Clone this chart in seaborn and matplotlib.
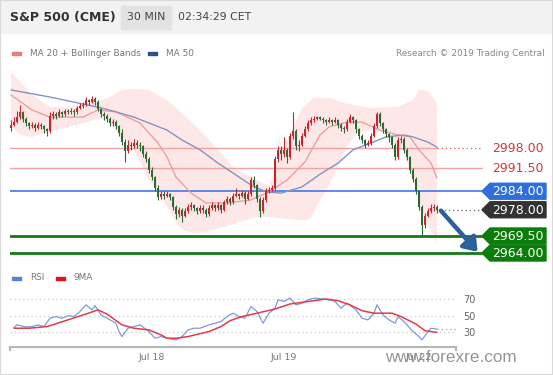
import numpy as np
import pandas as pd
import matplotlib
matplotlib.use("Agg")
import matplotlib.pyplot as plt
import seaborn as sns
from matplotlib.patches import Polygon, Rectangle
from matplotlib.transforms import blended_transform_factory

# ---------------- data ----------------
open_ = [
    3004.5, 3005.5, 3006.5, 3008, 3009.5, 3007.5, 3006, 3005, 3005.5, 3004.5,
    3005.5, 3005, 3004, 3003.5, 3008.5, 3009, 3008.5, 3009.5, 3009, 3010,
    3009.5, 3010, 3009.5, 3011, 3011.5, 3012, 3013.5, 3013, 3014, 3013,
    3010.5, 3009, 3008.5, 3007.5, 3006, 3006.5, 3005, 3003, 3000, 2997,
    2999, 2998.5, 2999.5, 2999, 2998.5, 2996, 2994.5, 2991, 2988.5, 2985,
    2982, 2983, 2982.5, 2983, 2982, 2979, 2976.5, 2978, 2976, 2977.5,
    2979, 2979.5, 2978.5, 2977.5, 2978.5, 2978, 2976.5, 2978.5, 2979.5, 2978.5,
    2979.5, 2978, 2980.5, 2981.5, 2980.5, 2982.5, 2983, 2982.5, 2983.5, 2981.5,
    2983, 2987.5, 2986, 2981.5, 2977.5, 2981, 2984, 2984.5, 2985, 2994.5,
    2997.5, 2996, 2997.5, 2995, 3002, 3003.5, 2998.5, 2999, 3002, 3004,
    3006, 3007, 3007.5, 3008, 3007.5, 3007, 3006.5, 3007, 3006.5, 3007,
    3005.5, 3004.5, 3004, 3006.5, 3008, 3007, 3004, 3002, 3000.5, 2999,
    2999.5, 3002, 3005, 3009, 3006, 3004, 3002.5, 3001.5, 2999, 2995,
    3000.5, 3001, 2997.5, 2995, 2991, 2988, 2984, 2979, 2973, 2976,
    2977.5, 2978.5, 2979]
close = [
    3005.5, 3006.5, 3008, 3009.5, 3007.5, 3006, 3005, 3005.5, 3004.5, 3005.5,
    3005, 3004, 3003.5, 3008.5, 3009, 3008.5, 3009.5, 3009, 3010, 3009.5,
    3010, 3009.5, 3011, 3011.5, 3012, 3013.5, 3013, 3014, 3013, 3010.5,
    3009, 3008.5, 3007.5, 3006, 3006.5, 3005, 3003, 3000, 2997, 2999,
    2998.5, 2999.5, 2999, 2998.5, 2996, 2994.5, 2991, 2988.5, 2985, 2982,
    2983, 2982.5, 2983, 2982, 2979, 2976.5, 2978, 2976, 2977.5, 2979,
    2979.5, 2978.5, 2977.5, 2978.5, 2978, 2976.5, 2978.5, 2979.5, 2978.5, 2979.5,
    2978, 2980.5, 2981.5, 2980.5, 2982.5, 2983, 2982.5, 2983.5, 2981.5, 2983,
    2987.5, 2986, 2981.5, 2977.5, 2981, 2984, 2984.5, 2985, 2994.5, 2997.5,
    2996, 2997.5, 2995, 3002, 3003.5, 2998.5, 2999, 3002, 3004, 3006,
    3007, 3007.5, 3008, 3007.5, 3007, 3006.5, 3007, 3006.5, 3007, 3005.5,
    3004.5, 3004, 3006.5, 3008, 3007, 3004, 3002, 3000.5, 2999, 2999.5,
    3002, 3005, 3009, 3006, 3004, 3002.5, 3001.5, 2999, 2995, 3000.5,
    3001, 2997.5, 2995, 2991, 2988, 2984, 2979, 2973, 2976, 2977.5,
    2978.5, 2979, 2978]
high = [
    3007, 3008, 3010, 3012, 3010, 3008, 3006.5, 3006.5, 3006, 3006.5,
    3006, 3005.5, 3004.5, 3009.5, 3010, 3009.5, 3010.5, 3010, 3010.5, 3010.5,
    3011, 3010.5, 3011.5, 3012.5, 3013, 3014.5, 3014, 3015, 3014.5, 3013.5,
    3011, 3009.5, 3009, 3008, 3007.5, 3007, 3005.5, 3004, 3001, 3000.5,
    3000, 3001, 3000.5, 3000, 2999, 2997, 2995, 2992, 2989, 2986,
    2984, 2984, 2984, 2983.5, 2982.5, 2979.5, 2979, 2978.5, 2978.5, 2980,
    2980.5, 2980, 2979, 2979.5, 2979.5, 2978.5, 2979.5, 2980.5, 2980, 2980.5,
    2980, 2981, 2982.5, 2982, 2983.5, 2985, 2983.5, 2984.5, 2984, 2984,
    2988.5, 2989, 2986.5, 2982, 2982, 2985, 2985.5, 2986, 2995.5, 2998.5,
    2998.5, 3001.5, 2998, 3003, 3009.5, 3004, 3000.5, 3003, 3005, 3007,
    3008, 3008.5, 3008.5, 3008.5, 3008, 3007.5, 3008, 3007.5, 3008, 3007.5,
    3006, 3005, 3007.5, 3009, 3008.5, 3007.5, 3004.5, 3002.5, 3001, 3000.5,
    3003, 3006, 3009.5, 3009.5, 3006.5, 3004.5, 3003, 3002, 2999.5, 3001.5,
    3002, 3001.5, 2998, 2995.5, 2991.5, 2988.5, 2984.5, 2979.5, 2977, 2978.5,
    2980, 2980, 2979.5]
low = [
    3003.5, 3005, 3006, 3007.5, 3006.5, 3005, 3004, 3004.5, 3003.5, 3004,
    3004, 3003, 3002, 3003, 3007.5, 3007.5, 3008, 3008, 3008.5, 3009,
    3009, 3008.5, 3009, 3010.5, 3011, 3011.5, 3012, 3012.5, 3012, 3010,
    3008, 3007, 3006.5, 3005, 3005, 3004, 3002, 2999, 2993.5, 2996.5,
    2997.5, 2998, 2998, 2997, 2995, 2993.5, 2990, 2987.5, 2984, 2981,
    2981.5, 2981.5, 2982, 2981, 2978, 2975, 2975.5, 2974, 2975.5, 2977,
    2978, 2977.5, 2976.5, 2977, 2977, 2975.5, 2976, 2978, 2977.5, 2978,
    2977, 2977.5, 2980, 2979.5, 2980, 2982, 2981.5, 2982, 2980, 2981,
    2982.5, 2985, 2980.5, 2975.5, 2977, 2980.5, 2983.5, 2984, 2984.5, 2993.5,
    2994, 2995, 2993, 2994.5, 3001, 2997.5, 2997, 2998.5, 3001.5, 3003.5,
    3005.5, 3006.5, 3007, 3007, 3006, 3005.5, 3006, 3005.5, 3006, 3004.5,
    3003.5, 3003, 3003.5, 3006, 3006, 3003, 3001, 2999.5, 2998, 2998.5,
    2999, 3001.5, 3004.5, 3005, 3003, 3001.5, 3000, 2998, 2994, 2994.5,
    2999.5, 2996.5, 2994, 2990, 2987, 2983, 2978, 2969.5, 2972, 2975.5,
    2977, 2977.5, 2977]

upper_idx = [0, 3, 7, 13, 19, 24, 29, 33, 37, 41, 46, 52, 57, 63, 69, 74, 80,
             86, 90, 94, 97, 101, 106, 114, 120, 129, 134, 136, 139, 142]
upper = [3022.6, 3019.4, 3015.2, 3011.3, 3011.3, 3012.6, 3013.2, 3014.5, 3016.8,
         3017.1, 3016.8, 3013.5, 3009.3, 3003.8, 2997.4, 2991.8, 2988.6, 2985.5,
         2996.7, 3004.5, 3011.0, 3014.2, 3014.2, 3011.9, 3011.0, 3011.3, 3013.5,
         3016.8, 3016.5, 3012.6]
lower_idx = [0, 3, 7, 13, 19, 24, 30, 33, 37, 41, 46, 50, 54, 57, 61, 65, 71, 76,
             82, 86, 93, 98, 100, 102, 106, 112, 115, 120, 125, 131, 134, 137, 142]
lower = [3005.1, 3002.2, 3001.6, 3003.2, 3004.8, 3006.1, 3007.7, 3006.1, 3001.6,
         2997.4, 2987.6, 2982.1, 2975.7, 2971.4, 2970.5, 2970.8, 2972.4, 2974.0,
         2975.7, 2975.7, 2975.0, 2974.5, 2975.3, 2979.5, 2986.0, 2998.3, 3002.9,
         3003.8, 3002.9, 2996.4, 2987.6, 2977.9, 2967.2]
ma20_idx = [0, 7, 13, 24, 29, 35, 43, 49, 52, 55, 60, 65, 72, 80, 86, 92, 98,
            103, 106, 112, 117, 123, 129, 133, 136, 140, 142]
ma20 = [3015.2, 3010.3, 3008.0, 3008.0, 3010.3, 3009.7, 3006.1, 2999.6, 2995.1,
        2988.6, 2983.4, 2980.2, 2980.2, 2981.2, 2983.8, 2987.6, 2993.5, 3002.2,
        3004.8, 3006.4, 3006.4, 3003.8, 3002.2, 3001.6, 2997.4, 2993.1, 2988.3]
ma50_idx = [0, 13, 30, 35, 41, 46, 52, 57, 63, 69, 74, 80, 85, 90, 97, 103, 109,
            114, 120, 125, 131, 134, 139, 142]
ma50 = [3016.8, 3014.5, 3011.0, 3009.7, 3008.0, 3006.1, 3003.8, 3000.6, 2997.4,
        2993.1, 2989.9, 2986.0, 2983.8, 2983.4, 2985.4, 2989.5, 2993.1, 2997.4,
        2999.6, 3001.6, 3002.2, 3001.6, 2999.9, 2998.3]

rsi_idx = [1, 2, 5, 7, 9, 11, 13, 15, 17, 19, 21, 23, 25, 27, 28, 30, 32, 35, 36,
           37, 39, 41, 43, 46, 48, 50, 52, 55, 57, 59, 61, 63, 66, 68, 70, 72, 74,
           76, 78, 80, 82, 84, 86, 88, 89, 91, 93, 95, 97, 99, 101, 104, 106, 108,
           110, 112, 115, 117, 119, 121, 122, 124, 126, 128, 129, 131, 134, 136,
           137, 139, 140, 142]
rsi = [35.6, 39, 36.5, 37, 39, 37, 47, 49, 47, 50, 49, 55, 63, 57, 62, 51, 47, 41,
       31, 25, 35, 37, 39, 31, 23, 25, 23, 21, 25, 33, 35, 35, 39, 41, 43, 49, 53,
       49, 47, 61, 55, 41, 53, 59, 69, 67, 71, 63, 65, 69, 71, 70, 69, 67, 59, 65,
       57, 47, 45, 53, 63, 51, 45, 41, 49, 43, 31, 25, 21, 31, 35, 34]
ma9_idx = [1, 6, 12, 19, 25, 29, 32, 37, 41, 46, 50, 52, 55, 59, 66, 70, 73, 77,
           82, 88, 93, 99, 105, 109, 113, 117, 121, 127, 130, 135, 138, 142]
ma9 = [35, 35, 37, 45, 52, 57, 52, 39, 35, 33, 27, 23, 23, 25, 31, 37, 44, 49, 53,
       58, 64, 67, 70, 68, 63, 56, 53, 53, 49, 40, 32, 30]

levels = [2998.0, 2991.5, 2984.0, 2978.0, 2969.5, 2964.0]
level_labels = ["2998.00", "2991.50", "2984.00", "2978.00", "2969.50", "2964.00"]
day_labels = ["Jul 18", "Jul 19", "Jul 22"]
day_idx = [47, 91, 136]
rsi_ticks = [30, 50, 70]

# ---------------- figure ----------------
sns.set_style("white")
plt.rcParams["font.family"] = ["DejaVu Sans"]

W, H = 553, 375
fig = plt.figure(figsize=(W / 100, H / 100), dpi=100)


def fx(px):
    return px / W


def fy(py):
    return 1 - py / H


# header
fig.patches.append(Rectangle((0, fy(33)), 1, 33 / H, transform=fig.transFigure,
                             color="#f2f2f2", zorder=0))
fig.patches.append(Rectangle((fx(121), fy(29)), 50 / W, 23 / H, transform=fig.transFigure,
                             color="#e2e2e2", zorder=1))
fig.text(fx(10), fy(17.5), "S&P 500 (CME)", fontsize=9, fontweight="bold",
         color="#333333", va="center")
fig.text(fx(146), fy(17.5), "30 MIN", fontsize=7.8, color="#444444", va="center", ha="center")
fig.text(fx(178), fy(17.5), "02:34:29 CET", fontsize=7.8, color="#444444", va="center")

# legend row
fig.patches.append(Rectangle((fx(12), fy(55)), 9 / W, 3.5 / H, transform=fig.transFigure,
                             color="#ec7b7b"))
fig.text(fx(30), fy(53), "MA 20 + Bollinger Bands", fontsize=6.4, color="#777777", va="center")
fig.patches.append(Rectangle((fx(148), fy(55)), 9 / W, 3.5 / H, transform=fig.transFigure,
                             color="#2e4f85"))
fig.text(fx(166), fy(53), "MA 50", fontsize=6.4, color="#777777", va="center")
fig.text(fx(545), fy(53), "Research \u00a9 2019 Trading Central", fontsize=6.4,
         color="#888888", va="center", ha="right")

# ---------------- main price panel ----------------
ax_l, ax_r, ax_t, ax_b = 10, 483, 68, 262
ax = fig.add_axes([fx(ax_l), fy(ax_b), (ax_r - ax_l) / W, (ax_b - ax_t) / H])
ppu_x = 3.0
x0 = (ax_l - 11) / ppu_x
x1 = (ax_r - 11) / ppu_x
ax.set_xlim(x0, x1)
ppu_y = 3.088
ax.set_ylim(2998 - (ax_b - 148) / ppu_y, 2998 + (148 - ax_t) / ppu_y)
ax.set_axis_off()

# Bollinger band polygon
band_x = upper_idx + lower_idx[::-1]
band_y = upper + lower[::-1]
ax.fill(band_x, band_y, color="#fde3e3", alpha=0.85, lw=0, zorder=1)

n = len(close)
idx = np.arange(n)
df = pd.DataFrame({"i": idx, "o": open_, "h": high, "l": low, "c": close})
up = df["c"] >= df["o"]
cols = np.where(up, "#c8262c", "#2f6a35")

end_frac = (11 + 3 * (n - 1) - ax_l) / (ax_r - ax_l)

# level lines
ax.axhline(levels[0], xmin=0, xmax=end_frac, color="#f0a3a3", lw=1, zorder=2)
ax.axhline(levels[0], xmin=end_frac, xmax=1, color="#e07373", lw=1, ls=(0, (1, 2)), zorder=2)
ax.axhline(levels[1], color="#f0a3a3", lw=1, zorder=2)
ax.axhline(levels[2], color="#4f82e6", lw=1.3, zorder=2)
ax.axhline(levels[3], xmin=end_frac + 0.006, xmax=1, color="#777777", lw=1, ls=(0, (1, 2)), zorder=2)
ax.axhline(levels[4], color="#157a15", lw=2, zorder=2)
ax.axhline(levels[5], color="#157a15", lw=2, zorder=2)

# moving averages
sns.lineplot(x=ma20_idx, y=ma20, ax=ax, color="#e99a9a", lw=0.9, zorder=3)
sns.lineplot(x=ma50_idx, y=ma50, ax=ax, color="#8394c4", lw=1.0, zorder=3)

# candles
ax.vlines(df["i"], df["l"], df["h"], colors=cols, lw=0.8, zorder=4)
body_lo = np.minimum(df["o"], df["c"])
body_h = np.maximum(np.abs(df["c"] - df["o"]), 0.35)
ax.bar(df["i"], body_h, bottom=body_lo, width=0.7, color=cols, lw=0, zorder=5)

# level tags
bt = blended_transform_factory(ax.transAxes, ax.transData)
aw = ax_r - ax_l
tip = (482 - ax_l) / aw
bl = (490 - ax_l) / aw
br = (546 - ax_l) / aw
tc = (518 - ax_l) / aw
hh = 8 / ppu_y
tag_bg = [None, None, "#2f6fdb", "#333333", "#0b7d0b", "#0b7d0b"]
for lv, lab, bg in zip(levels, level_labels, tag_bg):
    if bg is None:
        ax.text(tc, lv, lab, transform=bt, ha="center", va="center", fontsize=9,
                color="#d9363e", clip_on=False, zorder=7)
    else:
        poly = Polygon([(tip, lv), (bl, lv + hh), (br, lv + hh), (br, lv - hh), (bl, lv - hh)],
                       closed=True, transform=bt, color=bg, clip_on=False, zorder=6)
        ax.add_patch(poly)
        ax.text(tc, lv - 0.1, lab, transform=bt, ha="center", va="center", fontsize=9,
                color="white", clip_on=False, zorder=7)

# forecast arrow
ax.annotate("", xy=(x1 - 1.8, levels[-1] + 0.4), xytext=(n - 1 + 1.3, close[-1] - 0.3),
            arrowprops=dict(arrowstyle="-|>,head_length=0.55,head_width=0.4", lw=3.2,
                            color="#2c5f9e", mutation_scale=14, shrinkA=0, shrinkB=0),
            zorder=8, annotation_clip=False)

# ---------------- RSI panel ----------------
r_l, r_r, r_t, r_b = 10, 456, 290, 347
axr = fig.add_axes([fx(r_l), fy(r_b), (r_r - r_l) / W, (r_b - r_t) / H])
axr.set_xlim((r_l - 11) / ppu_x, (r_r - 11) / ppu_x)
rppu = 0.835
axr.set_ylim(50 - (r_b - 315.7) / rppu, 50 + (315.7 - r_t) / rppu)
for t in rsi_ticks:
    axr.axhline(t, color="#cfcfcf", lw=1, ls=(0, (1, 2)), zorder=1)
rend = (11 + 3 * (n - 1) - r_l) / (r_r - r_l)
axr.axhline(rsi[-1], xmin=rend, xmax=1, color="#9fb0dc", lw=1, ls=(0, (1, 2)), zorder=1)
sns.lineplot(x=rsi_idx, y=rsi, ax=axr, color="#7f9ad8", lw=0.9, zorder=3)
sns.lineplot(x=ma9_idx, y=ma9, ax=axr, color="#e23b4a", lw=1.1, zorder=4)

for s in ["top", "left", "right"]:
    axr.spines[s].set_visible(False)
axr.spines["bottom"].set_color("#b5b5b5")
axr.spines["bottom"].set_linewidth(1.5)
for xe in (0, 1):
    axr.plot([xe, xe], [0, -0.07], transform=axr.transAxes, color="#b5b5b5", lw=1.5,
             clip_on=False, solid_capstyle="butt")
axr.set_xticks(day_idx)
axr.set_xticklabels(day_labels)
axr.tick_params(axis="x", length=0, pad=4.5, labelsize=6.8, labelcolor="#777777")
axr.yaxis.tick_right()
axr.set_yticks(rsi_ticks)
axr.set_yticklabels([str(t) for t in rsi_ticks])
axr.tick_params(axis="y", length=0, pad=5, labelsize=7, labelcolor="#666666")
axr.set_xlabel("")
axr.set_ylabel("")

# RSI legend
fig.patches.append(Rectangle((fx(12), fy(280)), 9 / W, 3.5 / H, transform=fig.transFigure,
                             color="#5a7fd6"))
fig.text(fx(30), fy(278), "RSI", fontsize=6.4, color="#777777", va="center")
fig.patches.append(Rectangle((fx(56), fy(280)), 9 / W, 3.5 / H, transform=fig.transFigure,
                             color="#e0101e"))
fig.text(fx(73), fy(278), "9MA", fontsize=6.4, color="#777777", va="center")

# watermark
fig.text(fx(385), fy(357), "www.forexre.com", fontsize=12.3,
         family=["Liberation Sans", "DejaVu Sans"], color="#8a8a8a",
         va="center", alpha=0.9)

# frame
fig.patches.append(Rectangle((0, 0), 1, 1, transform=fig.transFigure, fill=False,
                             edgecolor="#d9d9d9", lw=1.5))

fig.savefig("out.png", dpi=100)
